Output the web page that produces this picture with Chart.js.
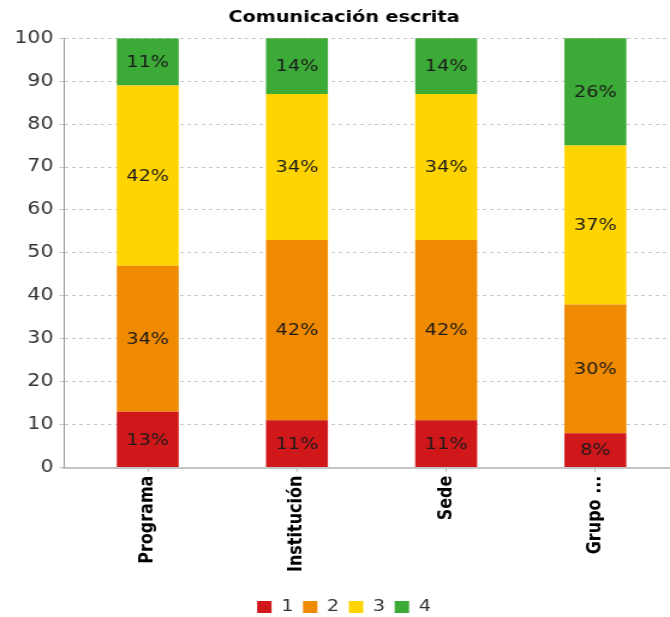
<!DOCTYPE html>
<html>
<head>
<meta charset="utf-8">
<script src="https://cdn.jsdelivr.net/npm/chart.js@4"></script>
<style>
  html, body { margin: 0; padding: 0; background: #fff; }
  /* the reference is drawn wide: render narrower and stretch to 670 */
  #chart { display: block; width: 670px; height: 617px; }
</style>
</head>
<body>
<canvas id="chart" width="558" height="617" style="width:670px;height:617px"></canvas>
<script>
const categories = ['Programa', 'Institución', 'Sede', 'Grupo ...'];
const seriesNames = ['1', '2', '3', '4'];
const nivel1 = [13, 11, 11, 8];
const nivel2 = [34, 42, 42, 30];
const nivel3 = [42, 34, 34, 37];
const nivel4 = [11, 14, 14, 26];
const yTicks = [0, 10, 20, 30, 40, 50, 60, 70, 80, 90, 100];

const colors = ['#d0181b', '#f08a00', '#ffd400', '#3caa37'];

// draws the "13%" style label in the middle of each segment
const segmentLabels = {
    id: 'segmentLabels',
    afterDatasetsDraw(chart) {
        const ctx = chart.ctx;
        ctx.save();
        ctx.font = '16px "DejaVu Sans"';
        ctx.fillStyle = '#1a1a1a';
        ctx.textAlign = 'center';
        ctx.textBaseline = 'middle';
        chart.data.datasets.forEach((ds, i) => {
            const meta = chart.getDatasetMeta(i);
            meta.data.forEach((bar, j) => {
                const top = Math.max(bar.y, chart.chartArea.top);
                const mid = (top + bar.base) / 2;
                ctx.fillText(ds.data[j] + '%', bar.x, mid + 1);
            });
        });
        ctx.restore();
    }
};

// title and legend sit a bit right of the canvas centre in the original
const nudgeBoxes = {
    id: 'nudgeBoxes',
    afterLayout(chart) {
        [chart.titleBlock, chart.legend].forEach((box) => {
            if (!box) return;
            box.left += 4;
            box.right += 4;
        });
    }
};

const series = [nivel1, nivel2, nivel3, nivel4];

new Chart(document.getElementById('chart'), {
    type: 'bar',
    data: {
        labels: categories,
        datasets: series.map((vals, i) => ({
            label: seriesNames[i],
            data: vals,
            backgroundColor: colors[i],
            borderWidth: 0,
            barPercentage: 0.415,
            categoryPercentage: 1,
        }))
    },
    options: {
        responsive: false,
        animation: false,
        devicePixelRatio: 1,
        layout: { padding: { top: 0, right: 0, left: 7, bottom: -8 } },
        plugins: {
            title: {
                display: true,
                text: 'Comunicación escrita',
                color: '#000',
                font: { family: 'DejaVu Sans', size: 16, weight: 'bold' },
                padding: { top: 8, bottom: 11 }
            },
            legend: {
                position: 'bottom',
                labels: {
                    boxWidth: 12,
                    boxHeight: 12,
                    color: '#333',
                    font: { family: 'DejaVu Sans', size: 16 },
                    padding: 8
                }
            },
            tooltip: { enabled: false }
        },
        scales: {
            x: {
                stacked: true,
                // small empty gap before the first category, as in the original
                afterBuildTicks: (axis) => {
                    axis._startValue = -0.56;
                    axis._valueRange = categories.length + 0.06;
                },
                afterFit: (scale) => { scale.height += 15; },
                grid: { display: true, offset: false, drawOnChartArea: false, drawTicks: true, tickLength: 4, color: '#aaa' },
                border: { color: '#c4c4c4', width: 2 },
                ticks: {
                    minRotation: 90,
                    maxRotation: 90,
                    color: '#000',
                    padding: 4,
                    font: { family: 'DejaVu Sans', size: 16, weight: 'bold' }
                }
            },
            y: {
                stacked: true,
                min: 0,
                max: 100,
                afterBuildTicks: (axis) => { axis.ticks = yTicks.map(v => ({ value: v })); },
                grid: { color: '#c8c8c8', tickLength: 4, tickColor: '#c8c8c8' },
                border: { color: '#999', width: 1, dash: [3, 3] },
                ticks: {
                    color: '#333',
                    padding: 5,
                    font: { family: 'DejaVu Sans', size: 17 }
                }
            }
        }
    },
    plugins: [segmentLabels, nudgeBoxes]
});
</script>
</body>
</html>
